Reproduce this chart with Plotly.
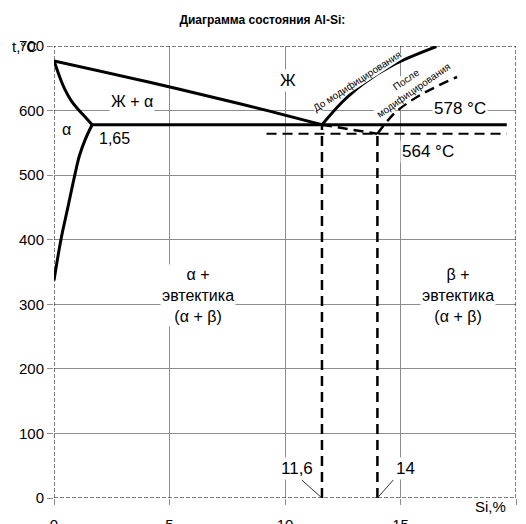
import plotly.graph_objects as go

# Диаграмма состояния Al-Si
x_ticks = [0, 5, 10, 15, 20]
x_tick_text = ["0", "5", "10", "15", ""]
y_ticks = [0, 100, 200, 300, 400, 500, 600, 700]

# линия ликвидус со стороны Al
liquidus_al_x = [0, 4, 8, 11.6]
liquidus_al_y = [677, 645, 611, 578]
# солидус α
solidus_x = [0, 0.3, 0.48, 0.75, 1.04, 1.35, 1.65]
solidus_y = [677, 647, 632, 615, 602, 590, 578]
# сольвус α
solvus_x = [1.65, 1.35, 1.1, 0.9, 0.6, 0.3, 0]
solvus_y = [578, 555, 530, 500, 450, 400, 337]
# ликвидус со стороны Si, до и после модифицирования
liquidus_si_x = [11.6, 12.5, 13.4, 14.7, 16.55]
liquidus_si_y = [578, 614, 642, 671, 699]
liquidus_mod_x = [14, 14.8, 15.85, 17.45]
liquidus_mod_y = [564, 598, 624, 652]
# смещение эвтектической точки
shift_x = [11.6, 14]
shift_y = [578, 564]
# эвтектические горизонтали
eutectic_x = [1.65, 19.6]
eutectic_y = [578, 578]
eutectic_mod_x = [9.2, 19.6]
eutectic_mod_y = [564, 564]
# вертикали эвтектических составов
vert_x = [11.6, 14]
vert_top = [578, 564]
# выноски к подписям 11,6 и 14
leader_from_x = [10.72, 14.69]
leader_from_y = [28, 28]

BLACK = "#000000"
FONT = "Liberation Sans, Arial, sans-serif"
DASH = "10px,6px"

# страница браузера даёт отступ 8px, поэтому фигура чуть меньше окна
W, H = 518, 516

fig = go.Figure()


def add_line(x, y, dash="solid", width=3, shape="linear", color=BLACK):
    fig.add_trace(go.Scatter(
        x=x, y=y, mode="lines",
        line=dict(color=color, width=width, dash=dash, shape=shape),
        hoverinfo="skip",
    ))


add_line(liquidus_al_x, liquidus_al_y, shape="spline")
add_line(solidus_x, solidus_y, shape="spline")
add_line(solvus_x, solvus_y, shape="spline")
add_line(liquidus_si_x, liquidus_si_y, shape="spline")
add_line(liquidus_mod_x, liquidus_mod_y, dash=DASH, width=2.5, shape="spline")
add_line(shift_x, shift_y, dash=DASH, width=2.5)
add_line(eutectic_x, eutectic_y)
add_line(eutectic_mod_x, eutectic_mod_y, dash=DASH, width=2)
for vx, vt in zip(vert_x, vert_top):
    add_line([vx, vx], [0, vt], dash=DASH, width=2.5)
for lx, ly, vx in zip(leader_from_x, leader_from_y, vert_x):
    add_line([lx, vx], [ly, 0], width=1, color="#333333")

labels = [
    # text, x, y, size
    ("Ж", 10.14, 647, 17),
    ("Ж + α", 3.39, 614, 16),
    ("α", 0.54, 570, 16),
    ("1,65", 2.64, 556, 16),
    ("578 °C", 17.58, 603, 17),
    ("564 °C", 16.17, 536, 17),
    ("α +<br>эвтектика<br>(α + β)", 6.23, 314, 16),
    ("β +<br>эвтектика<br>(α + β)", 17.5, 314, 16),
    ("11,6", 10.54, 45, 17),
    ("14", 15.23, 45, 17),
]
for text, x, y, size in labels:
    fig.add_annotation(
        x=x, y=y, text=text, showarrow=False,
        font=dict(family=FONT, size=size, color=BLACK),
        bgcolor="white", borderpad=1,
    )

# подписи вдоль линий ликвидус
fig.add_annotation(
    x=13.1, y=645, text="До модифицирования", showarrow=False,
    textangle=-33, font=dict(family=FONT, size=10, color=BLACK),
    bgcolor="white", borderpad=0,
)
fig.add_annotation(
    x=15.39, y=640, text="После<br>модифицирования", showarrow=False,
    textangle=-35, font=dict(family=FONT, size=10, color=BLACK),
    bgcolor="white", borderpad=0,
)

# подписи осей
fig.add_annotation(
    xref="paper", yref="y", x=-0.095, y=700, xanchor="left",
    text="t,°C", showarrow=False, font=dict(family=FONT, size=15, color=BLACK),
)
fig.add_annotation(
    xref="paper", yref="paper", x=0.983, y=-0.042,
    text="Si,%", showarrow=False, font=dict(family=FONT, size=15, color=BLACK),
)

# пунктирная рамка области построения
fig.add_shape(
    type="rect", xref="x", yref="y", x0=0, x1=20, y0=0, y1=700,
    line=dict(color=BLACK, width=1, dash="4px,2px"), layer="above",
)

axis_common = dict(
    showgrid=True, gridcolor="#8c8c8c", gridwidth=1,
    zeroline=False, showline=False, automargin=False,
    ticks="outside", ticklen=6, tickcolor="#8c8c8c",
    tickfont=dict(family=FONT, size=15, color=BLACK),
)

fig.update_layout(
    width=W, height=H,
    margin=dict(l=46, r=10, t=38, b=26),
    paper_bgcolor="white", plot_bgcolor="white",
    showlegend=False,
    title=dict(
        text="<b>Диаграмма состояния Al-Si:</b>",
        xref="container", x=0.491, xanchor="center",
        yref="container", y=1 - 12 / H, yanchor="middle",
        font=dict(family=FONT, size=12, color=BLACK),
    ),
    xaxis=dict(range=[0, 20], tickvals=x_ticks, ticktext=x_tick_text,
               ticklabelstandoff=7, **axis_common),
    yaxis=dict(range=[0, 700], tickvals=y_ticks, **axis_common),
)

fig.write_html("out.html")
